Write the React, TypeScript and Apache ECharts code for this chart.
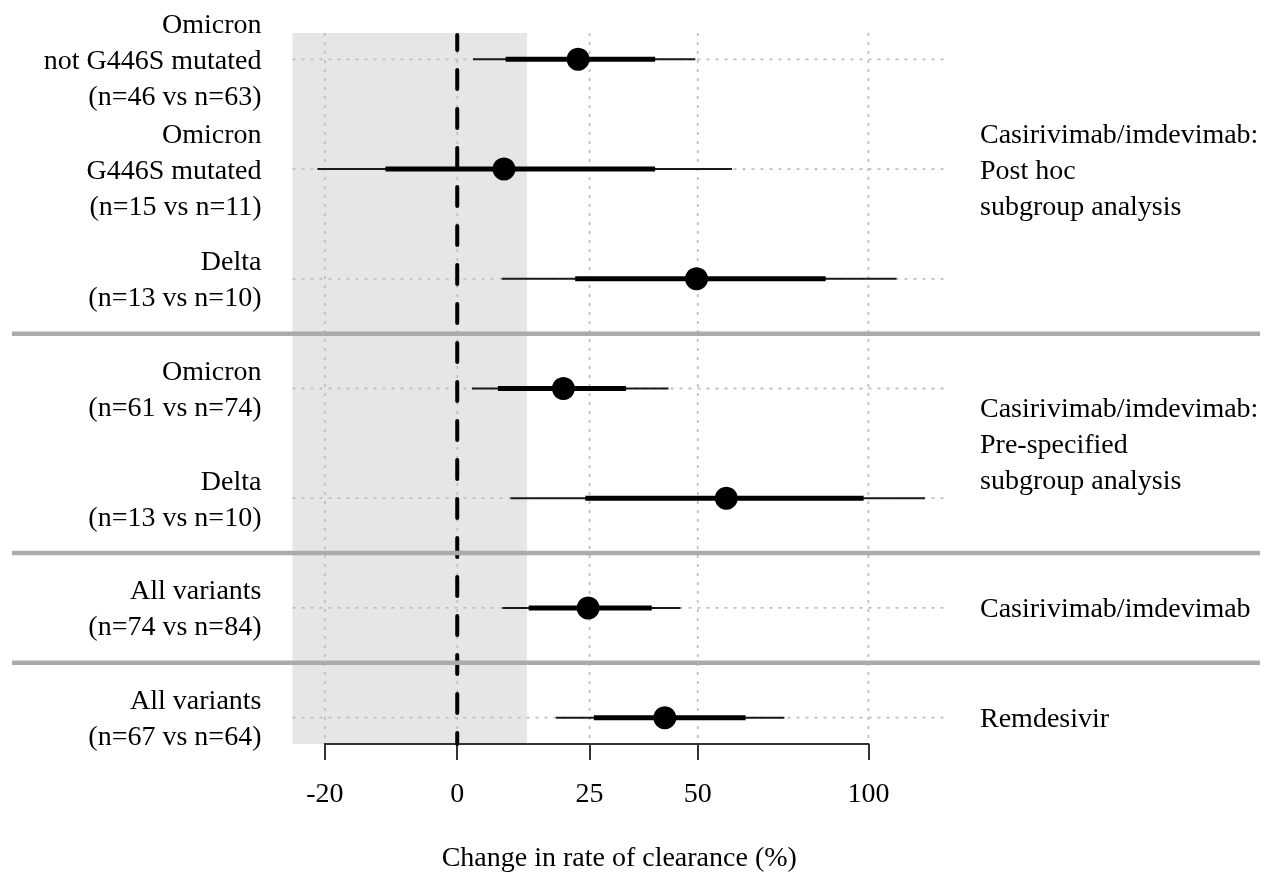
import React, { useEffect, useRef } from "react";
import * as echarts from "echarts";

// ---- data (percent change in rate of clearance) ----
const rowLabels = [
  "Omicron\nnot G446S mutated\n(n=46 vs n=63)",
  "Omicron\nG446S mutated\n(n=15 vs n=11)",
  "Delta\n(n=13 vs n=10)",
  "Omicron\n(n=61 vs n=74)",
  "Delta\n(n=13 vs n=10)",
  "All variants\n(n=74 vs n=84)",
  "All variants\n(n=67 vs n=64)",
];
const rowIndex = [1, 2, 3, 4, 5, 6, 7];
const lower95 = [2.7, -21.0, 7.8, 2.5, 9.4, 7.9, 18.1];
const lower80 = [8.5, -11.4, 22.0, 7.1, 24.1, 12.8, 25.9];
const median = [22.6, 8.2, 49.7, 19.6, 57.4, 24.7, 41.9];
const upper80 = [39.6, 39.6, 86.1, 32.9, 98.4, 38.8, 62.6];
const upper95 = [49.4, 58.9, 109.7, 42.8, 120.0, 45.7, 73.6];

const groupLabels = [
  "Casirivimab/imdevimab:\nPost hoc\nsubgroup analysis",
  "Casirivimab/imdevimab:\nPre-specified\nsubgroup analysis",
  "Casirivimab/imdevimab",
  "Remdesivir",
];
const groupCentres = [2, 4.5, 6, 7];
const separatorsAt = [3.5, 5.5, 6.5];
const tickPercents = [-20, 0, 25, 50, 100];
const futilityThreshold = 12.5;
const axisTitle = "Change in rate of clearance (%)";

// ---- helpers ----
const FONT = "Liberation Serif";
const FS = 28;
const toLog = (p: number) => Math.log(1 + p / 100);
const X_MIN = -0.2777;
const X_MAX = 0.824;
const Y_MIN = 0.76;
const Y_MAX = 7.24;

function buildOption(): any {
  const tickLogs = tickPercents.map(toLog);
  const intervalData = rowIndex.map((r, i) => [
    r,
    toLog(lower95[i]),
    toLog(lower80[i]),
    toLog(upper80[i]),
    toLog(upper95[i]),
  ]);
  const medianData = rowIndex.map((r, i) => [toLog(median[i]), r]);

  return {
    animation: false,
    grid: { left: 292.5, right: 317, top: 33, bottom: 125 },
    xAxis: {
      type: "value",
      min: X_MIN,
      max: X_MAX,
      axisLine: { show: false },
      splitLine: { show: false },
      axisTick: {
        show: true,
        length: 16,
        customValues: tickLogs,
        lineStyle: { color: "#333", width: 2 },
      },
      axisLabel: {
        customValues: tickLogs,
        formatter: (v: number) => String(Math.round((Math.exp(v) - 1) * 100)),
        margin: 34,
        fontSize: FS,
        fontFamily: FONT,
        color: "#000",
      },
      name: axisTitle,
      nameLocation: "middle",
      nameGap: 98,
      nameTextStyle: { fontSize: FS, fontFamily: FONT, color: "#000" },
    },
    yAxis: {
      type: "value",
      min: Y_MIN,
      max: Y_MAX,
      inverse: true,
      axisLine: { show: false },
      axisTick: { show: false },
      splitLine: { show: false },
      axisLabel: {
        customValues: rowIndex,
        formatter: (v: number) => rowLabels[Math.round(v) - 1] ?? "",
        margin: 31,
        align: "right",
        fontSize: FS,
        lineHeight: 36,
        fontFamily: FONT,
        color: "#000",
      },
    },
    series: [
      {
        // futility region
        type: "custom",
        silent: true,
        z: 1,
        clip: false,
        data: [[toLog(futilityThreshold), 1]],
        renderItem: (params: any, api: any) => {
          const cs = params.coordSys;
          const p = api.coord([api.value(0), api.value(1)]);
          return {
            type: "rect",
            shape: { x: cs.x, y: cs.y, width: p[0] - cs.x, height: cs.height },
            style: { fill: "#e6e6e6" },
          };
        },
      },
      {
        // vertical dotted grid lines
        type: "custom",
        silent: true,
        z: 2,
        clip: false,
        data: tickLogs.map((v) => [v, 1]),
        renderItem: (params: any, api: any) => {
          const cs = params.coordSys;
          const p = api.coord([api.value(0), api.value(1)]);
          return {
            type: "line",
            shape: { x1: p[0], y1: cs.y, x2: p[0], y2: cs.y + cs.height },
            style: { stroke: "#c0c0c0", lineWidth: 1.8, lineDash: [3, 6] },
          };
        },
      },
      {
        // horizontal dotted grid lines
        type: "custom",
        silent: true,
        z: 2,
        clip: false,
        data: rowIndex.map((r) => [0, r]),
        renderItem: (params: any, api: any) => {
          const cs = params.coordSys;
          const p = api.coord([api.value(0), api.value(1)]);
          return {
            type: "line",
            shape: { x1: cs.x, y1: p[1], x2: cs.x + cs.width, y2: p[1] },
            style: { stroke: "#c0c0c0", lineWidth: 1.8, lineDash: [3, 6] },
          };
        },
      },
      {
        // axis line from first to last tick
        type: "custom",
        silent: true,
        z: 3,
        clip: false,
        data: [[tickLogs[0], tickLogs[tickLogs.length - 1], Y_MAX]],
        renderItem: (params: any, api: any) => {
          const a = api.coord([api.value(0), api.value(2)]);
          const b = api.coord([api.value(1), api.value(2)]);
          return {
            type: "line",
            shape: { x1: a[0] - 1, y1: a[1], x2: b[0] + 1, y2: b[1] },
            style: { stroke: "#333", lineWidth: 2 },
          };
        },
      },
      {
        // zero reference line
        type: "custom",
        silent: true,
        z: 4,
        clip: false,
        data: [[0, 1]],
        renderItem: (params: any, api: any) => {
          const cs = params.coordSys;
          const p = api.coord([api.value(0), api.value(1)]);
          return {
            type: "line",
            shape: { x1: p[0], y1: cs.y + 2, x2: p[0], y2: cs.y + cs.height },
            style: {
              stroke: "#000",
              lineWidth: 4,
              lineDash: [19, 20],
              lineDashOffset: 4,
              lineCap: "round",
            },
          };
        },
      },
      {
        // group separators
        type: "custom",
        silent: true,
        z: 5,
        clip: false,
        data: separatorsAt.map((s) => [0, s]),
        renderItem: (params: any, api: any) => {
          const p = api.coord([api.value(0), api.value(1)]);
          return {
            type: "line",
            shape: { x1: 12, y1: p[1], x2: api.getWidth() - 3, y2: p[1] },
            style: { stroke: "#ababab", lineWidth: 4.5 },
          };
        },
      },
      {
        // credible intervals (95% thin, 80% thick)
        type: "custom",
        silent: true,
        z: 6,
        clip: false,
        encode: { x: [1, 2, 3, 4], y: 0 },
        data: intervalData,
        renderItem: (params: any, api: any) => {
          const r = api.value(0);
          const l95 = api.coord([api.value(1), r]);
          const l80 = api.coord([api.value(2), r]);
          const u80 = api.coord([api.value(3), r]);
          const u95 = api.coord([api.value(4), r]);
          return {
            type: "group",
            children: [
              {
                type: "line",
                shape: { x1: l95[0], y1: l95[1], x2: u95[0], y2: u95[1] },
                style: { stroke: "#1a1a1a", lineWidth: 2 },
              },
              {
                type: "line",
                shape: { x1: l80[0], y1: l80[1], x2: u80[0], y2: u80[1] },
                style: { stroke: "#000", lineWidth: 5 },
              },
            ],
          };
        },
      },
      {
        // posterior medians
        type: "scatter",
        silent: true,
        z: 7,
        symbol: "circle",
        symbolSize: 23,
        itemStyle: { color: "#000", opacity: 1 },
        data: medianData,
      },
      {
        // group labels on the right
        type: "custom",
        silent: true,
        z: 8,
        clip: false,
        data: groupCentres.map((c, i) => [X_MAX, c, i]),
        renderItem: (params: any, api: any) => {
          const p = api.coord([api.value(0), api.value(1)]);
          return {
            type: "text",
            x: p[0] + 34,
            y: p[1],
            style: {
              text: groupLabels[api.value(2)],
              fill: "#000",
              fontSize: FS,
              fontFamily: FONT,
              lineHeight: 36,
              align: "left",
              verticalAlign: "middle",
            },
          };
        },
      },
    ],
  };
}

export default function App() {
  const ref = useRef<HTMLDivElement>(null);
  useEffect(() => {
    if (!ref.current) return;
    const chart = echarts.init(ref.current, null, { renderer: "svg" });
    chart.setOption(buildOption());
    return () => {
      chart.dispose();
    };
  }, []);
  return (
    <div
      ref={ref}
      style={{ position: "fixed", left: 0, top: 0, width: 1263, height: 875 }}
    />
  );
}
